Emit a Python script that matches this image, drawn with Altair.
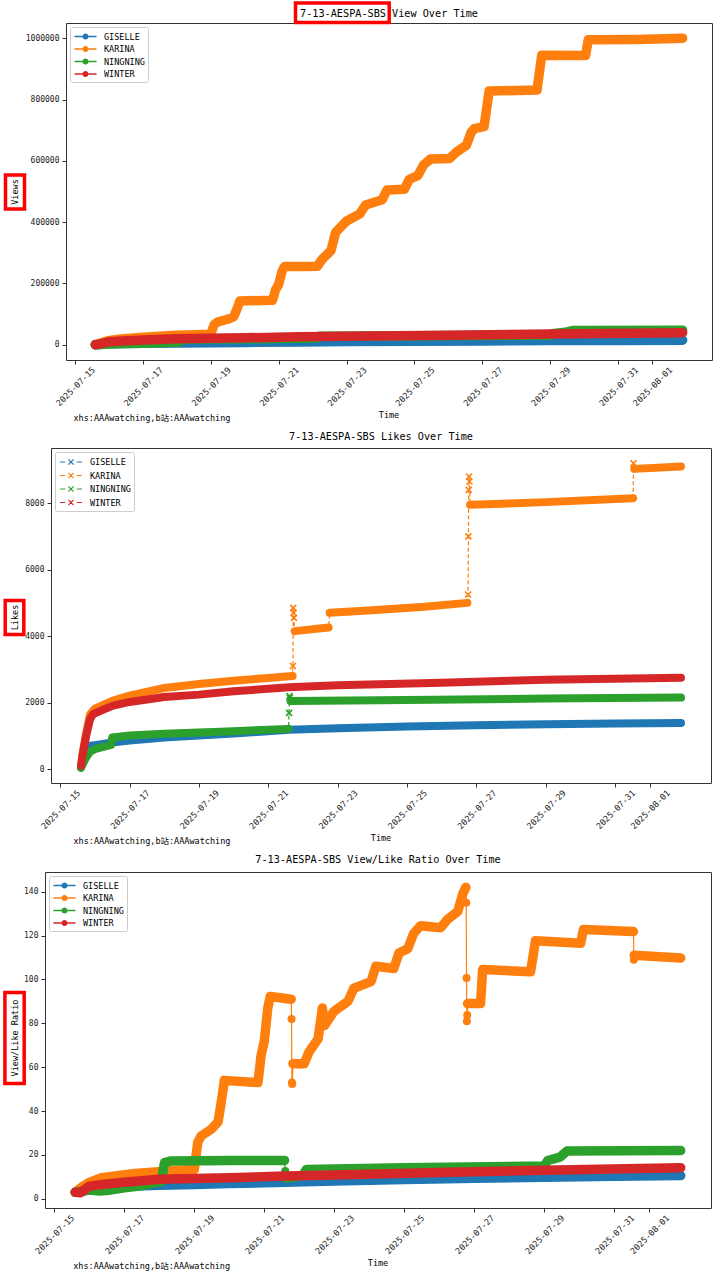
import altair as alt
import pandas as pd

NAMES = ["GISELLE", "KARINA", "NINGNING", "WINTER"]
COLORS = ["#1f77b4", "#ff7f0e", "#2ca02c", "#d62728"]
FONT = "DejaVu Sans Mono, Noto Sans CJK SC, monospace"
BASE = pd.Timestamp("2025-07-15 00:00:00")
PREFIX = "7-13-AESPA-SBS"
WATERMARK = "xhs:AAAwatching,b站:AAAwatching"
X_TICKS = [(7, 15), (7, 17), (7, 19), (7, 21), (7, 23), (7, 25), (7, 27), (7, 29), (7, 31), (8, 1)]

# rows: (days since 2025-07-15 00:00, value[, segment]) ; segment -1 = isolated marker
VIEWS_GISELLE = [(0.60, 150), (1.00, 3200), (1.50, 4200), (2.00, 5000), (3.00, 5900), (4.00, 6700),
                 (5.00, 7500), (6.60, 9000), (8.00, 10100), (10.0, 11300), (12.0, 12400), (14.0, 13400),
                 (16.0, 14100), (17.9, 14700)]
VIEWS_KARINA = [(0.60, 300), (0.80, 7000), (0.97, 13000), (1.35, 19000), (2.00, 24300), (3.00, 30500),
                (4.00, 34300), (4.10, 66000), (4.20, 74000), (4.49, 83000), (4.68, 92000), (4.77, 116000),
                (4.86, 143000), (5.82, 145000), (5.91, 180000), (6.00, 197000), (6.10, 240000),
                (6.17, 255000), (6.77, 255000), (7.14, 256000), (7.28, 279000), (7.54, 307000),
                (7.68, 367000), (7.99, 403000), (8.39, 427000), (8.56, 456000), (9.05, 473000),
                (9.19, 505000), (9.70, 507000), (9.85, 540000), (10.10, 552000), (10.27, 587000),
                (10.47, 606000), (11.04, 608000), (11.24, 629000), (11.53, 651000), (11.67, 693000),
                (11.76, 705000), (12.05, 712000), (12.20, 828000), (13.61, 831000), (13.75, 945000),
                (15.04, 944000), (15.12, 995000), (16.55, 996000), (17.90, 1000000)]
VIEWS_NINGNING = [(0.60, 100), (1.00, 2400), (1.50, 3600), (2.00, 5000), (2.50, 6200), (3.06, 8500),
                  (3.15, 17500), (3.34, 18300), (5.00, 19500), (6.60, 21000), (7.10, 21500),
                  (7.20, 27500), (10.0, 29500), (14.0, 31500), (14.10, 37000), (14.45, 40500),
                  (14.65, 46500), (17.9, 47500)]
VIEWS_WINTER = [(0.60, 300), (0.75, 2800), (0.86, 6000), (1.00, 9600), (1.50, 12800), (2.00, 15300),
                (3.00, 19300), (4.00, 20800), (5.00, 22500), (6.60, 25600), (8.00, 27500),
                (11.0, 31200), (14.0, 35000), (17.9, 39000)]

LIKES_GISELLE = [(0.60, 50), (0.65, 250), (0.75, 500), (0.86, 700), (1.00, 720), (1.50, 800),
                 (2.00, 860), (3.00, 950), (4.00, 1010), (5.00, 1070), (6.60, 1180), (8.00, 1230),
                 (10.0, 1280), (12.0, 1320), (14.0, 1350), (16.0, 1370), (17.9, 1390)]
LIKES_KARINA = [(0.60, 80, 0), (0.65, 500, 0), (0.75, 1100, 0), (0.86, 1650, 0), (1.00, 1820, 0),
                (1.50, 2050, 0), (2.00, 2210, 0), (3.00, 2440, 0), (4.00, 2560, 0), (5.00, 2660, 0),
                (6.00, 2740, 0), (6.70, 2800, 0),
                (6.71, 3100, -1), (6.72, 4850, -1), (6.73, 4700, -1), (6.74, 4550, -1),
                (6.76, 4150, 1), (7.74, 4260, 1),
                (7.77, 4700, 2), (9.00, 4780, 2), (10.5, 4880, 2), (11.74, 5000, 2),
                (11.76, 5250, -1), (11.77, 7000, -1), (11.78, 8400, -1), (11.79, 8800, -1), (11.80, 8650, -1),
                (11.82, 7950, 3), (14.0, 8030, 3), (16.52, 8150, 3),
                (16.53, 9200, -1),
                (16.55, 9030, 4), (17.9, 9100, 4)]
LIKES_NINGNING = [(0.60, 40, 0), (0.65, 150, 0), (0.75, 350, 0), (0.86, 520, 0), (1.00, 600, 0),
                  (1.30, 680, 0), (1.47, 730, 0), (1.50, 950, 0), (2.00, 1010, 0), (3.00, 1060, 0),
                  (4.00, 1100, 0), (5.00, 1140, 0), (6.58, 1210, 0),
                  (6.60, 1690, -1), (6.61, 2200, -1), (6.62, 2150, -1),
                  (6.64, 2050, 1), (10.0, 2080, 1), (14.0, 2120, 1), (17.9, 2150, 1)]
LIKES_WINTER = [(0.60, 100), (0.65, 450), (0.75, 1000), (0.86, 1500), (0.95, 1650), (1.00, 1680),
                (1.50, 1900), (2.00, 2020), (3.00, 2170), (4.00, 2240), (5.00, 2340), (6.60, 2460),
                (8.00, 2520), (11.0, 2600), (14.0, 2690), (17.9, 2750)]

RATIO_GISELLE = [(0.60, 3.0), (0.80, 3.5), (1.00, 4.5), (1.50, 5.3), (2.00, 5.8), (3.00, 6.2),
                 (4.00, 6.6), (5.00, 7.0), (6.60, 7.6), (8.00, 8.2), (10.0, 8.8), (12.0, 9.4),
                 (14.0, 9.9), (16.0, 10.3), (17.9, 10.6)]
RATIO_KARINA = [(0.60, 3.0, 0), (0.80, 5.5, 0), (0.97, 7.3, 0), (1.35, 9.6, 0), (2.30, 11.6, 0),
                (3.26, 12.7, 0), (4.00, 13.4, 0), (4.10, 25.8, 0), (4.20, 28.7, 0), (4.49, 31.8, 0),
                (4.68, 35.0, 0), (4.77, 44.0, 0), (4.86, 54.0, 0), (5.82, 53.0, 0), (5.91, 65.4, 0),
                (6.00, 71.7, 0), (6.10, 86.9, 0), (6.17, 92.2, 0), (6.77, 91.0, 0),
                (6.78, 82.0, -1), (6.79, 53.0, -1), (6.80, 52.4, -1),
                (6.82, 61.6, 1), (7.14, 61.6, 1), (7.28, 67.0, 1), (7.54, 73.0, 1), (7.66, 87.0, 1),
                (7.72, 79.0, 1), (7.99, 85.4, 1), (8.39, 90.0, 1), (8.56, 96.0, 1), (9.05, 99.0, 1),
                (9.19, 106.0, 1), (9.70, 105.0, 1), (9.85, 112.0, 1), (10.10, 114.0, 1),
                (10.27, 121.0, 1), (10.47, 124.5, 1), (11.04, 123.6, 1), (11.24, 127.4, 1),
                (11.53, 131.0, 1), (11.67, 138.9, 1), (11.76, 142.0, 1),
                (11.77, 135.0, -1), (11.78, 100.6, -1), (11.79, 80.9, -1), (11.80, 83.8, -1),
                (11.81, 89.0, 2), (12.18, 89.0, 2), (12.24, 104.5, 2), (13.61, 103.5, 2),
                (13.75, 117.6, 2), (15.04, 116.5, 2), (15.12, 122.8, 2), (16.55, 121.8, 2),
                (16.56, 109.0, -1),
                (16.57, 111.0, 3), (17.90, 109.8, 3)]
RATIO_NINGNING = [(0.60, 3.0, 0), (0.80, 3.5, 0), (1.00, 4.0, 0), (1.30, 3.6, 0), (1.50, 3.8, 0),
                  (2.00, 5.0, 0), (2.50, 6.0, 0), (3.06, 8.0, 0), (3.15, 16.5, 0), (3.34, 17.3, 0),
                  (5.00, 17.5, 0), (6.58, 17.5, 0),
                  (6.60, 12.7, -1),
                  (6.63, 9.5, 1), (7.10, 10.5, 1), (7.20, 13.4, 1), (10.0, 14.2, 1), (14.0, 15.0, 1),
                  (14.10, 17.5, 1), (14.45, 19.0, 1), (14.65, 21.8, 1), (17.9, 22.0, 1)]
RATIO_WINTER = [(0.60, 3.0), (0.75, 2.8), (1.00, 5.8), (1.50, 6.8), (2.00, 7.6), (3.00, 8.9),
                (4.00, 9.3), (5.00, 9.6), (6.60, 10.4), (8.00, 10.9), (11.0, 12.0), (14.0, 13.0),
                (17.9, 14.2)]

VIEWS_TICKS = [0, 200000, 400000, 600000, 800000, 1000000]
LIKES_TICKS = [0, 2000, 4000, 6000, 8000]
RATIO_TICKS = [0, 20, 40, 60, 80, 100, 120, 140]

SYM_DOT = ("M-1.8,-0.12L-0.5,-0.12L-0.5,0.12L-1.8,0.12Z "
           "M0.5,-0.12L1.8,-0.12L1.8,0.12L0.5,0.12Z "
           "M-0.5,0A0.5,0.5,0,1,1,0.5,0A0.5,0.5,0,1,1,-0.5,0Z")
SYM_X = ("M-1.8,0L-0.95,0M0.95,0L1.8,0"
         "M-0.42,-0.42L0.42,0.42M-0.42,0.42L0.42,-0.42")
X_MARK = "M-1,-1L1,1M-1,1L1,-1"

ONE = pd.DataFrame({"k": [0]})


def build(series_rows):
    recs = []
    for name, rows in zip(NAMES, series_rows):
        for i, r in enumerate(rows):
            seg = r[2] if len(r) > 2 else 0
            recs.append(dict(series=name, time=BASE + pd.Timedelta(days=r[0]),
                             value=r[1], seg=seg, idx=i))
    return pd.DataFrame(recs)


def to_dt(ts):
    return alt.DateTime(year=ts.year, month=ts.month, date=ts.day,
                        hours=ts.hour, minutes=ts.minute, seconds=ts.second)


def red_box(x1, x2, y1, y2):
    return alt.Chart(ONE).mark_rect(fill="transparent", stroke="#ff0000", strokeWidth=3.5).encode(
        x=alt.value(x1), x2=alt.value(x2), y=alt.value(y1), y2=alt.value(y2))


def label(text, x, y, size=8.5, align="center", angle=0):
    kw = dict(font=FONT, fontSize=size, color="black", align=align, baseline="middle")
    if angle:
        kw["angle"] = angle
    return alt.Chart(ONE).mark_text(**kw).encode(
        x=alt.value(x), y=alt.value(y), text=alt.value(text))


def panel(df, metric, ylab, yticks, width, height, dashed, ybox, ytext_x, wm_x, title_y, extra=None):
    t0, t1 = df.time.min(), df.time.max()
    tp = (t1 - t0) * 0.05
    v0, v1 = float(df.value.min()), float(df.value.max())
    vp = (v1 - v0) * 0.05
    x = alt.X("time:T", scale=alt.Scale(domain=[to_dt(t0 - tp), to_dt(t1 + tp)]),
              axis=alt.Axis(values=[alt.DateTime(year=2025, month=m, date=d) for m, d in X_TICKS],
                            format="%Y-%m-%d", labelAngle=-45, labelAlign="center",
                            labelBaseline="middle", labelPadding=22, tickSize=4,
                            labelFontSize=8.5, labelOverlap=False, labelFlush=False, title=None))
    y = alt.Y("value:Q", scale=alt.Scale(domain=[v0 - vp, v1 + vp], nice=False, zero=False),
              axis=alt.Axis(values=yticks, format="d", title=None, tickSize=4, labelPadding=3))
    base = alt.Chart(df).encode(x=x, y=y)

    legend = alt.Legend(title=None, orient="top-left", offset=4,
                        symbolType=SYM_X if dashed else SYM_DOT, symbolSize=150,
                        symbolStrokeWidth=1.2 if dashed else 0, symbolOpacity=1,
                        symbolOffset=6, labelOffset=12, labelFont=FONT, labelFontSize=8.5,
                        labelColor="black", padding=3, rowPadding=1.5,
                        strokeColor="#cccccc", fillColor="white", cornerRadius=2)
    layers = [base.transform_filter("datum.idx == 0").mark_point(opacity=0, filled=not dashed).encode(
        color=alt.Color("series:N", scale=alt.Scale(domain=NAMES, range=COLORS), legend=legend))]

    for name, color in zip(NAMES, COLORS):
        sel = f"datum.series == '{name}'"
        thin = dict(color=color, strokeWidth=1.2)
        if dashed:
            thin["strokeDash"] = [4, 2.5]
        layers.append(base.transform_filter(sel).mark_line(**thin).encode(order="idx:Q"))
        layers.append(base.transform_filter(f"{sel} && datum.seg >= 0").mark_line(
            color=color, strokeWidth=9.5 if not dashed else 8, strokeCap="round", strokeJoin="round"
        ).encode(detail="seg:N", order="idx:Q"))
        if dashed:
            pts = base.transform_filter(f"{sel} && datum.seg < 0").mark_point(
                shape=X_MARK, filled=False, size=36, strokeWidth=1.6, color=color, opacity=1)
        else:
            pts = base.transform_filter(f"{sel} && datum.seg < 0").mark_point(
                shape="circle", filled=True, size=64, color=color, opacity=1)
        layers.append(pts)

    bx1, bx2, by1, by2 = ybox
    layers.append(label(ylab, ytext_x, (by1 + by2) / 2, angle=270))
    layers.append(red_box(bx1, bx2, by1, by2))
    layers.append(label("Time", width / 2, height + 55))
    layers.append(label(WATERMARK, wm_x, height + 58, align="left"))
    layers.append(label(f"{PREFIX} {metric} Over Time", width / 2, title_y, size=10.2))
    if extra is not None:
        layers.append(extra)
    return alt.layer(*layers).properties(width=width, height=height)


def row(left, chart):
    spacer = alt.Chart(ONE).mark_point(size=1, opacity=0).encode(
        x=alt.value(0), y=alt.value(0)
    ).properties(width=left, height=1, view=alt.ViewBackground(stroke="transparent"))
    return alt.hconcat(spacer, chart, spacing=0, bounds="flush").resolve_scale(
        color="independent").resolve_legend(color="independent")


views_df = build([VIEWS_GISELLE, VIEWS_KARINA, VIEWS_NINGNING, VIEWS_WINTER])
likes_df = build([LIKES_GISELLE, LIKES_KARINA, LIKES_NINGNING, LIKES_WINTER])
ratio_df = build([RATIO_GISELLE, RATIO_KARINA, RATIO_NINGNING, RATIO_WINTER])

p1 = panel(views_df, "View", "Views", VIEWS_TICKS, 646, 337, False,
           (-60.5, -41.5, 152, 186), -51, 7.5, -9.0,
           extra=red_box(229.5, 323.2, -20.0, -0.5))
p2 = panel(likes_df, "Likes", "Likes", LIKES_TICKS, 660, 335, True,
           (-45.8, -27.2, 152.5, 186.5), -36.5, 22.5, -11.0)
p3 = panel(ratio_df, "View/Like Ratio", "View/Like Ratio", RATIO_TICKS, 666, 336, False,
           (-40.1, -20.8, 120.5, 211.5), -30.5, 28.2, -12.5)

chart = alt.vconcat(row(64.5, p1), row(49.5, p2), row(43.8, p3), spacing=8).resolve_scale(
    color="independent").resolve_legend(color="independent").properties(
    padding={"left": 0, "top": 0, "right": 2, "bottom": 2}
).configure_view(stroke="#333333", strokeWidth=1).configure_axis(
    domain=False, grid=False, tickColor="#333333", labelColor="#222222",
    labelFont=FONT, labelFontSize=8)

chart.save("out.html", embed_options={"renderer": "svg", "actions": False})
